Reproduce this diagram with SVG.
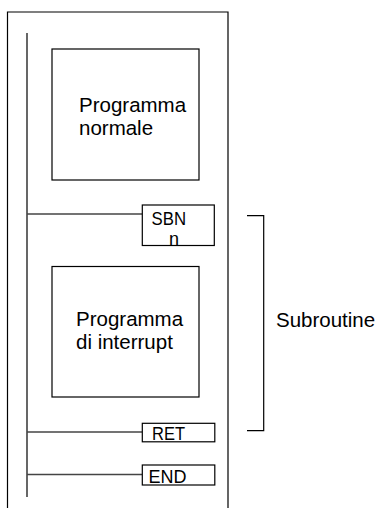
<svg xmlns="http://www.w3.org/2000/svg" width="379" height="508" viewBox="0 0 379 508">
<style>
.box{fill:#fff;stroke:#000;stroke-width:1.2}
.frame{fill:none;stroke:#000;stroke-width:1.2}
.wire{fill:none;stroke:#444;stroke-width:1.6}
.big{font-family:"Liberation Sans",Arial,sans-serif;font-size:20.5px;fill:#000}
.small{font-family:"Liberation Sans",Arial,sans-serif;font-size:18px;fill:#000}
</style>
<rect width="379" height="508" fill="#fff"/>
<g id="frame">
<path class="frame" d="M7.5,508 V12 H228 V508"/>
<path class="frame" d="M27,33 V497"/>
</g>
<g id="connectors">
<path class="wire" d="M27,214 H142"/>
<path class="wire" d="M27,432 H142"/>
<path class="wire" d="M27,474.5 H142"/>
</g>
<g id="programma-normale">
<rect class="box" x="52" y="49" width="147" height="131"/>
<text class="big" x="79" y="111.5">Programma</text>
<text class="big" x="79" y="135">normale</text>
</g>
<g id="sbn">
<rect class="box" x="142.3" y="205" width="72" height="40.5"/>
<text class="small" x="151.5" y="225" textLength="34.5" lengthAdjust="spacingAndGlyphs">SBN</text>
<text class="small" x="169" y="244.5">n</text>
</g>
<g id="programma-interrupt">
<rect class="box" x="52" y="266.5" width="147" height="130.5"/>
<text class="big" x="76" y="325.5">Programma</text>
<text class="big" x="76" y="348.5">di interrupt</text>
</g>
<g id="ret">
<rect class="box" x="142.3" y="423.3" width="72.5" height="18.5"/>
<text class="small" x="152" y="440" textLength="33" lengthAdjust="spacingAndGlyphs">RET</text>
</g>
<g id="end">
<rect class="box" x="142.3" y="465" width="72.5" height="20"/>
<text class="small" x="148.5" y="483" textLength="38" lengthAdjust="spacingAndGlyphs">END</text>
</g>
<g id="subroutine">
<path class="frame" d="M247,215.7 H263.7 V430.7 H247"/>
<text class="big" x="276" y="326.5">Subroutine</text>
</g>
</svg>
